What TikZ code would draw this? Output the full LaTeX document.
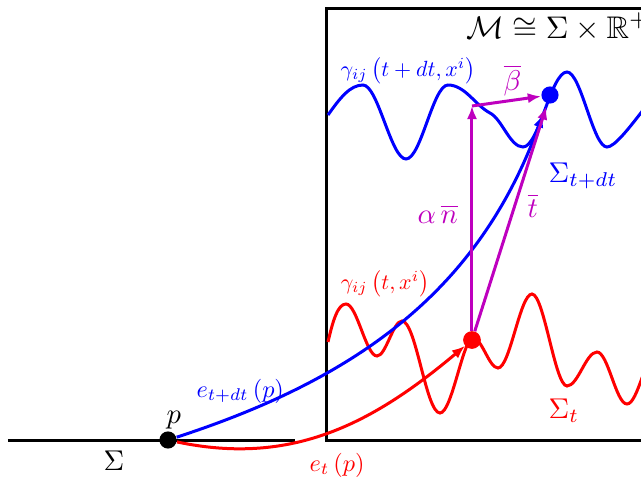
\documentclass[tikz,border=0pt]{standalone}
\usepackage{amssymb}
\usetikzlibrary{arrows.meta}
\definecolor{mag}{RGB}{190,0,190}
\newcommand{\gsc}[1]{\scalebox{0.77}{#1}}
\newcommand{\esc}[1]{\scalebox{0.85}{#1}}
\begin{document}
\begin{tikzpicture}[x=0.35pt,y=-0.35pt,
  ln/.style={line width=1.05pt},
  tip/.style={-{Latex[length=4.6pt,width=3.6pt]}},
  dot/.style={circle,inner sep=0pt,minimum size=6pt},
  lab/.style={inner sep=0pt,anchor=base west},
  big/.style={lab,font=\normalsize},
  med/.style={lab,font=\normalsize},
  gam/.style={inner sep=0pt,font=\normalsize}]
\useasboundingbox (0,0) rectangle (641,479);
\clip (0,0) rectangle (641,479);
% frame and Sigma line
\draw[ln] (700,8) -- (327,8) -- (327,440) -- (700,440);
\draw[ln] (8,440) -- (295,440);
% blue wave
\draw[ln,blue] (328,115) .. controls (340,98) and (350,85) .. (363,85)
  .. controls +(15,0) and +(-15,0) .. (406,159)
  .. controls +(15,0) and +(-15,0) .. (448,85)
  .. controls (465,85) and (475,105) .. (490,113)
  .. controls (502,119) and (510,147) .. (523,147)
  .. controls +(16,0) and +(-16,0) .. (567,72)
  .. controls +(14,0) and +(-14,0) .. (607,147)
  .. controls +(15,0) and +(-15,0) .. (680,72);
% red wave
\draw[ln,red] (328,342) .. controls (333,320) and (338,304) .. (346,304)
  .. controls +(11,0) and +(-11,0) .. (377,356)
  .. controls +(9,0) and +(-9,0) .. (402,321)
  .. controls +(14,0) and +(-14,0) .. (440,413)
  .. controls +(12,0) and +(-10,0) .. (473,338)
  .. controls +(9,0) and +(-9,0) .. (498,368)
  .. controls +(12,0) and +(-12,0) .. (532,294)
  .. controls +(12,0) and +(-12,0) .. (567,386)
  .. controls +(11,0) and +(-11,0) .. (597,352)
  .. controls +(11,0) and +(-11,0) .. (627,404)
  .. controls +(11,0) and +(-11,0) .. (657,352);
% points
\node[dot] (p) at (168,440) {};
\node[dot] (r) at (472,340) {};
\node[dot] (b) at (550,95) {};
\coordinate (nb) at (472,106);
% curves e_t and e_{t+dt}
\draw[ln,blue,tip,shorten >=4pt] (p) to[out=18,in=250] (b);
\draw[ln,red,tip] (p) to[out=-12,in=220] (r);
% vectors
\draw[ln,mag,tip] (r) -- (nb);
\draw[ln,mag,tip] (nb) -- (b);
\draw[ln,mag,tip,shorten >=1pt] (r) -- (b);
% dots on top
\fill[black] (p) circle (3pt);
\fill[red] (r) circle (3.1pt);
\fill[blue] (b) circle (3pt);
% labels
\node[lab,font=\fontsize{10.95}{13}\selectfont] (title) at (466,38) {$\mathcal{M}\cong\Sigma\times\mathbb{R}^+$};
\node[gam,blue] (gb) at (408,71) {\gsc{$\gamma_{ij}\left(t+dt,x^i\right)$}};
\node[gam,red] (gr) at (385,284) {\gsc{$\gamma_{ij}\left(t,x^i\right)$}};
\node[big,blue] (sb) at (548,182) {$\Sigma_{t+dt}$};
\node[big,red] (sr) at (548,418) {$\Sigma_t$};
\node[big] (s) at (103,470) {$\Sigma$};
\node[big] (pl) at (166,423) {$p$};
\node[med,blue] (eb) at (196,397) {\esc{$e_{t+dt}\left(p\right)$}};
\node[med,red] (er) at (309,471) {\esc{$e_t\left(p\right)$}};
\node[big,mag] (an) at (417,223) {$\alpha\,\overline{n}$};
\node[big,mag] (tb) at (527,217) {$\overline{t}$};
\node[big,mag] (bb) at (503,90) {$\overline{\beta}$};
\end{tikzpicture}
\end{document}
